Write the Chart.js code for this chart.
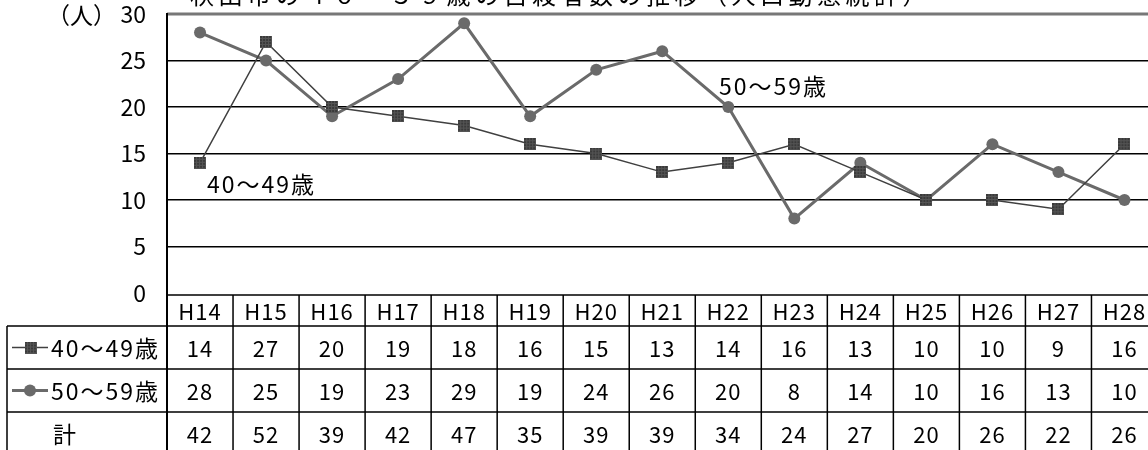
<!DOCTYPE html>
<html>
<head>
<meta charset="utf-8">
<script src="https://cdn.jsdelivr.net/npm/chart.js@4"></script>
<style>
  html, body { margin: 0; padding: 0; background: #fff; overflow: hidden; }
  #wrap { width: 1165px; height: 450px; position: relative; }
</style>
</head>
<body>
<div id="wrap"><canvas id="suicideChart"></canvas></div>
<script>
const years = ['H14','H15','H16','H17','H18','H19','H20','H21','H22','H23','H24','H25','H26','H27','H28'];
const age40s = [14, 27, 20, 19, 18, 16, 15, 13, 14, 16, 13, 10, 10, 9, 16];
const age50s = [28, 25, 19, 23, 29, 19, 24, 26, 20, 8, 14, 10, 16, 13, 10];
const totals = [42, 52, 39, 42, 47, 35, 39, 39, 34, 24, 27, 20, 26, 22, 26];
const titleText = '秋田市の４０～５９歳の自殺者数の推移（人口動態統計）';

const FONT = '"Noto Sans CJK JP", sans-serif';

// square marker with the little grid texture
function squareMarker() {
    const c = document.createElement('canvas');
    c.width = 12; c.height = 12;
    const g = c.getContext('2d');
    g.fillStyle = '#3a3a3a';
    g.fillRect(0, 0, 12, 12);
    g.strokeStyle = '#555';
    g.lineWidth = 1;
    for (let i = 2; i < 12; i += 3) {
        g.beginPath(); g.moveTo(i + 0.5, 0); g.lineTo(i + 0.5, 12); g.stroke();
        g.beginPath(); g.moveTo(0, i + 0.5); g.lineTo(12, i + 0.5); g.stroke();
    }
    return c;
}
const sq = squareMarker();

const tablePlugin = {
    id: 'tablePlugin',
    afterDraw(chart) {
        const ctx = chart.ctx;
        const xs = chart.scales.x;
        const area = chart.chartArea;
        const colW = xs.getPixelForValue(1) - xs.getPixelForValue(0);
        const left = area.left, right = area.right;
        const rows = [295, 326, 369, 412, 455];

        ctx.save();
        // title (cut off at the top like the original)
        ctx.fillStyle = '#000';
        ctx.font = '24px ' + FONT;
        ctx.textBaseline = 'alphabetic';
        ctx.textAlign = 'left';
        let tx = 190;
        for (const ch of titleText) {
            ctx.fillText(ch, tx, 4);
            tx += 28.5;
        }

        // unit label next to the top tick
        ctx.font = '23px ' + FONT;
        ctx.textBaseline = 'middle';
        ctx.fillText('（人）', 47, area.top + 1);

        // top border of the plot
        ctx.strokeStyle = '#777';
        ctx.lineWidth = 3;
        ctx.beginPath(); ctx.moveTo(left, area.top); ctx.lineTo(right, area.top); ctx.stroke();

        // table grid
        ctx.strokeStyle = '#000';
        ctx.lineWidth = 1.5;
        ctx.beginPath();
        ctx.moveTo(left, rows[0]); ctx.lineTo(right, rows[0]);
        for (let r = 1; r < rows.length; r++) {
            ctx.moveTo(7, rows[r]); ctx.lineTo(right, rows[r]);
        }
        ctx.moveTo(7, rows[1]); ctx.lineTo(7, rows[4]);
        for (let i = 0; i <= years.length; i++) {
            const x = xs.getPixelForValue(0) - colW / 2 + i * colW;
            ctx.moveTo(x, rows[0]); ctx.lineTo(x, rows[4]);
        }
        ctx.stroke();
        ctx.lineWidth = 2;
        ctx.beginPath(); ctx.moveTo(left, area.top - 1); ctx.lineTo(left, rows[4]); ctx.stroke();

        // table values
        ctx.font = '22px ' + FONT;
        ctx.letterSpacing = '1px';
        ctx.textAlign = 'center';
        ctx.textBaseline = 'middle';
        const rowData = [years, age40s, age50s, totals];
        for (let r = 0; r < 4; r++) {
            const y = (rows[r] + rows[r + 1]) / 2 + 1;
            rowData[r].forEach((v, i) => {
                ctx.fillText(String(v), xs.getPixelForValue(i), y);
            });
        }

        // row labels with legend samples
        ctx.font = '23px ' + FONT;
        ctx.letterSpacing = '2px';
        ctx.textAlign = 'left';
        const y1 = (rows[1] + rows[2]) / 2;
        ctx.strokeStyle = '#404040'; ctx.lineWidth = 1.5;
        ctx.beginPath(); ctx.moveTo(12, y1); ctx.lineTo(48, y1); ctx.stroke();
        ctx.drawImage(sq, 25, y1 - 6);
        ctx.fillText('40～49歳', 51, y1 + 1);

        const y2 = (rows[2] + rows[3]) / 2;
        ctx.strokeStyle = '#6a6a6a'; ctx.lineWidth = 3;
        ctx.beginPath(); ctx.moveTo(12, y2); ctx.lineTo(48, y2); ctx.stroke();
        ctx.fillStyle = '#6a6a6a';
        ctx.beginPath(); ctx.arc(30, y2, 6, 0, Math.PI * 2); ctx.fill();
        ctx.fillStyle = '#000';
        ctx.fillText('50～59歳', 51, y2 + 1);

        ctx.fillText('計', 53, (rows[3] + rows[4]) / 2 + 1);

        // series annotations
        ctx.fillText('40～49歳', 207, 184);
        ctx.fillText('50～59歳', 719, 86);
        ctx.restore();
    }
};

const ctx = document.getElementById('suicideChart').getContext('2d');
const chart = new Chart(ctx, {
    type: 'line',
    data: {
        labels: years,
        datasets: [{
            label: '40～49歳',
            data: age40s,
            borderColor: '#404040',
            borderWidth: 1.5,
            pointStyle: sq,
            pointRadius: 6,
            tension: 0
        }, {
            label: '50～59歳',
            data: age50s,
            borderColor: '#6a6a6a',
            backgroundColor: '#6a6a6a',
            borderWidth: 3,
            pointStyle: 'circle',
            pointRadius: 6,
            pointBorderWidth: 0,
            tension: 0
        }]
    },
    options: {
        responsive: true,
        maintainAspectRatio: false,
        animation: false,
        layout: { padding: { top: 14, bottom: 157, left: 0, right: 3 } },
        plugins: {
            legend: { display: false },
            tooltip: { enabled: false },
            title: { display: false }
        },
        scales: {
            x: { display: false, offset: true },
            y: {
                min: 0,
                max: 30,
                border: { display: false },
                grid: {
                    color: '#000',
                    lineWidth: (c) => (c.tick.value === 0 || c.tick.value === 30) ? 0 : 1.5,
                    drawTicks: false
                },
                ticks: {
                    stepSize: 5,
                    padding: 21,
                    color: '#000',
                    font: { size: 23, family: FONT }
                },
                afterFit: (scale) => { scale.width = 167; scale.paddingTop = 0; scale.paddingBottom = 0; }
            }
        }
    },
    plugins: [tablePlugin]
});
</script>
</body>
</html>
